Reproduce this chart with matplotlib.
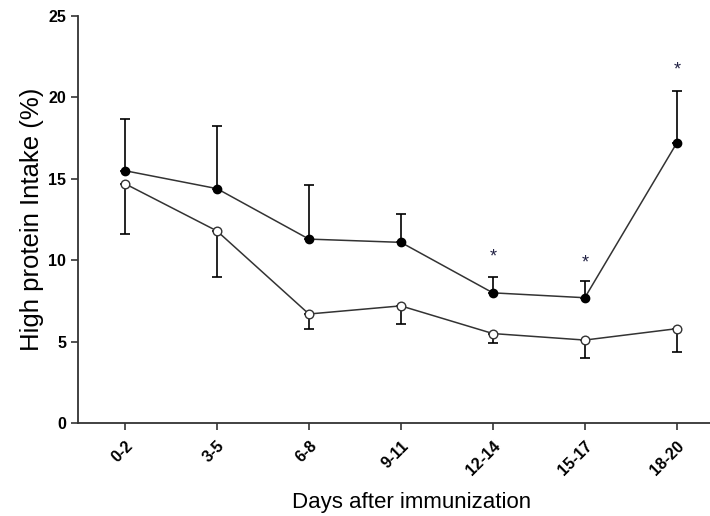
import numpy as np
import matplotlib.pyplot as plt

plt.rcParams['font.family'] = ['Liberation Sans', 'DejaVu Sans']

# Data
days = ['0-2', '3-5', '6-8', '9-11', '12-14', '15-17', '18-20']
filled_mean = [15.5, 14.4, 11.3, 11.1, 8.0, 7.7, 17.2]
filled_err = [3.2, 3.85, 3.3, 1.75, 0.95, 1.0, 3.2]
open_mean = [14.7, 11.8, 6.7, 7.2, 5.5, 5.1, 5.8]
open_err = [3.1, 2.8, 0.9, 1.1, 0.6, 1.1, 1.45]
star_idx = [4, 5, 6]
star_y = [10.2, 9.85, 21.7]

x = np.arange(len(days))
col = '#333333'

fig = plt.figure(figsize=(7.1, 5.16), dpi=100)
ax = fig.add_axes([0.11, 0.18, 0.895, 0.789])

# error bars: filled one-sided up, open one-sided down
ax.errorbar(x, filled_mean, yerr=[np.zeros(len(x)), filled_err], fmt='none',
            ecolor='black', elinewidth=1.2, capsize=3.6, capthick=1.2, zorder=1)
ax.errorbar(x, open_mean, yerr=[open_err, np.zeros(len(x))], fmt='none',
            ecolor='black', elinewidth=1.2, capsize=3.6, capthick=1.2, zorder=1)

ax.plot(x, filled_mean, '-', color=col, lw=1.1, marker='o', ms=6,
        mfc='black', mec='black', zorder=3)
ax.plot(x, open_mean, '-', color=col, lw=1.1, marker='o', ms=6.2,
        mfc='white', mec=col, mew=1.0, zorder=3)

for i, yv in zip(star_idx, star_y):
    ax.text(x[i], yv, '*', ha='center', va='center', fontsize=13, color='#222244')

ax.set_xlim(-0.51, 6.4)
ax.set_ylim(0, 25)
ax.set_yticks([0, 5, 10, 15, 20, 25])
ax.set_xticks(x)
ax.set_xticklabels(days, rotation=45, ha='right', rotation_mode='anchor')

for lab in ax.get_xticklabels() + ax.get_yticklabels():
    lab.set_fontweight('bold')
    lab.set_fontsize(11.5)

ax.spines['top'].set_visible(False)
ax.spines['right'].set_visible(False)
for s in ['left', 'bottom']:
    ax.spines[s].set_color(col)
    ax.spines[s].set_linewidth(1.3)
ax.tick_params(direction='out', length=5, width=1.2, color=col)
ax.tick_params(axis='x', pad=6)

ax.set_ylabel('High protein Intake (%)', fontsize=18.5, labelpad=3)
ax.set_xlabel('Days after immunization', fontsize=16)
ax.xaxis.set_label_coords(0.524, -0.168)

fig.savefig('out.png', dpi=100)
